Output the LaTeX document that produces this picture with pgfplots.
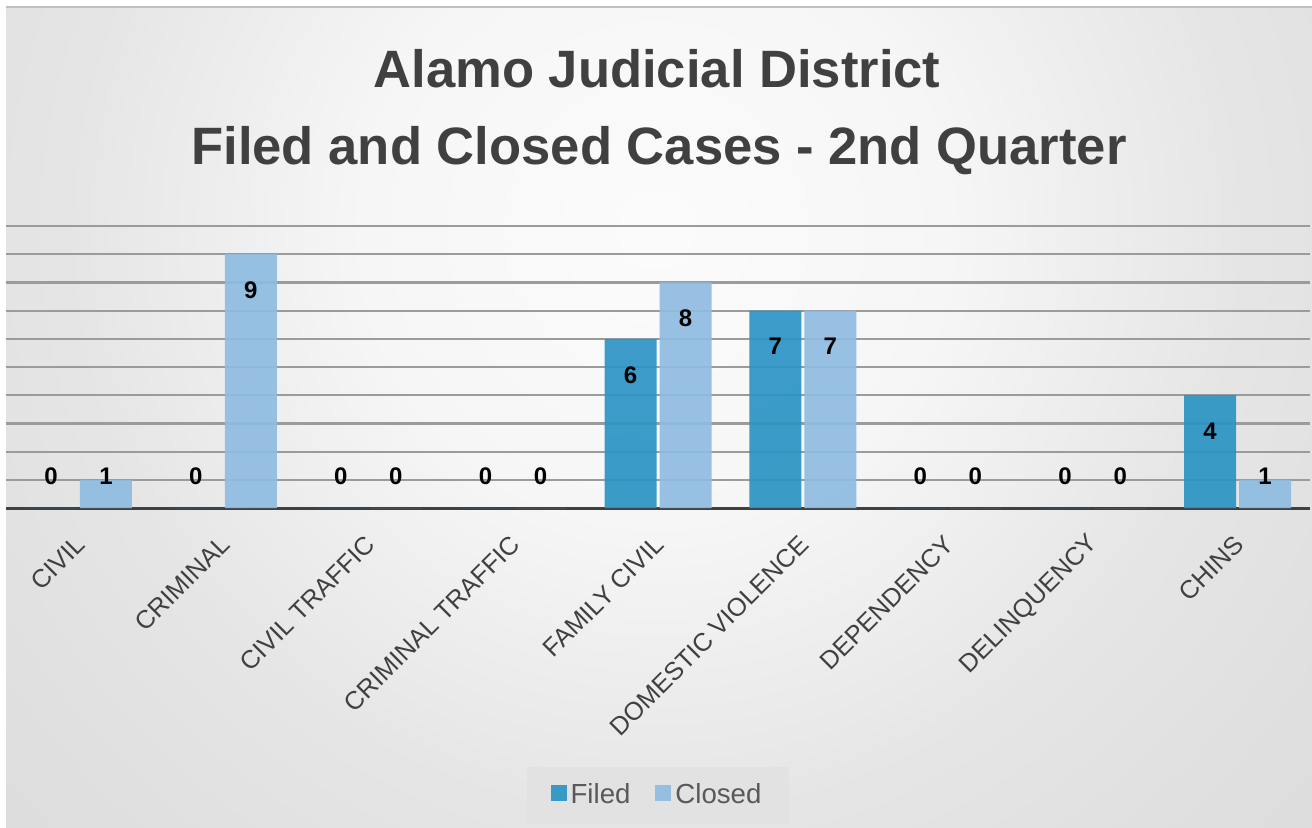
\documentclass[border=0pt]{standalone}
\usepackage{fontspec}
\setmainfont{Liberation Sans}
\usepackage{pgfplots}
\pgfplotsset{compat=1.18}

\definecolor{filed}{RGB}{44,148,196}
\definecolor{closed}{RGB}{143,188,225}
\definecolor{titlegray}{RGB}{64,64,64}
\definecolor{darkline}{RGB}{64,64,64}
\definecolor{legendtext}{RGB}{89,89,89}
\definecolor{legendbg}{RGB}{226,226,226}
\definecolor{gridgray}{RGB}{155,155,155}

% soft radial background, light near the title
\pgfdeclareradialshading{chartbg}{\pgfpoint{0bp}{0bp}}{%
  color(0bp)=(gray!3); color(8bp)=(gray!7); color(16bp)=(gray!20);
  color(29bp)=(gray!31); color(37bp)=(gray!39); color(46bp)=(gray!47);
  color(50bp)=(gray!48)}

\begin{document}
\begin{tikzpicture}
\useasboundingbox (0,0) rectangle (656pt,413.5pt);
\fill[white] (0,0) rectangle (656pt,413.5pt);
\begin{scope}
  \clip (3pt,0pt) rectangle (656pt,410pt);
  \fill[gray!48] (3pt,0pt) rectangle (656pt,410pt);
  \shade[shading=chartbg] (328pt,298.5pt) circle (455pt);
\end{scope}
\draw[gray!50, line width=1pt] (3pt,410pt) -- (656pt,410pt);

\node[anchor=base, font=\bfseries\fontsize{26.3}{30}\selectfont, text=titlegray]
  at (328.5pt,370pt) {Alamo Judicial District};
\node[anchor=base, font=\bfseries\fontsize{26.3}{30}\selectfont, text=titlegray]
  at (329.5pt,331.5pt) {Filed and Closed Cases - 2nd Quarter};

\begin{axis}[
    at={(3pt,159.5pt)}, anchor=south west,
    scale only axis, width=652pt, height=141pt,
    ybar=1.5pt, bar width=26pt,
    xmin=-0.5, xmax=8.5, ymin=0, ymax=10,
    xtick={0,...,8},
    xticklabels={CIVIL, CRIMINAL, CIVIL TRAFFIC, CRIMINAL TRAFFIC, FAMILY CIVIL,
                 DOMESTIC VIOLENCE, DEPENDENCY, DELINQUENCY, CHINS},
    xticklabel style={xshift=1pt, yshift=-16pt, rotate=45, anchor=east, inner sep=0pt,
                      font=\fontsize{12.7}{13}\selectfont, text=titlegray},
    ytick={1,...,10}, yticklabels={},
    ymajorgrids, major grid style={draw=gridgray, line width=1.1pt},
    major tick length=0pt,
    axis x line*=bottom, axis y line*=left,
    x axis line style={draw=darkline, line width=1.5pt},
    y axis line style={draw=none},
    /pgf/number format/assume math mode=true,
    nodes near coords,
    visualization depends on={rawy \as \rawy},
    every node near coord/.append style={font=\bfseries\fontsize{12}{12}\selectfont,
        text=black, text opacity=1, anchor=center,
        yshift={(max(\rawy-1.28,1.12)-\rawy)*14.1pt}},
    legend columns=2,
    legend style={at={(0.5,-1.018)}, anchor=center, draw=none, fill=legendbg,
        font=\fontsize{13.8}{15}\selectfont, text=legendtext,
        inner xsep=12pt, inner ysep=6.5pt,
        /tikz/every even column/.append style={column sep=10.5pt}},
    legend image code/.code={\fill[#1] (-1pt,-3pt) rectangle (7pt,5pt);},
]
\addplot[fill=filed, draw=none, fill opacity=0.92] coordinates {
    (0,0) (1,0) (2,0) (3,0) (4,6) (5,7) (6,0) (7,0) (8,4)
};
\addplot[fill=closed, draw=none, fill opacity=0.92] coordinates {
    (0,1) (1,9) (2,0) (3,0) (4,8) (5,7) (6,0) (7,0) (8,1)
};
\legend{Filed, Closed}
\end{axis}
\end{tikzpicture}
\end{document}
